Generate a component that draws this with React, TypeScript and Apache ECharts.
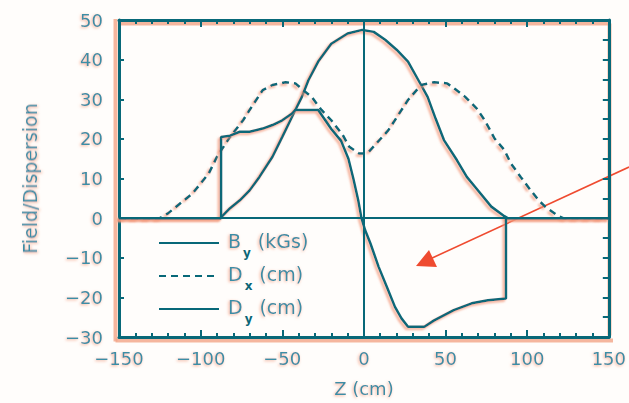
import React, { useEffect, useRef } from "react";
import * as echarts from "echarts";

// ---- data ----
const byZ = [-150, -88, -82, -76, -70, -64, -56, -50, -46, -42, -38, -34, -28, -20, -10, -1, 6, 13, 20, 27, 35, 39, 44, 49, 57, 63, 68, 78, 86, 88, 150];
const byV = [0, 0, 2.5, 4.5, 7, 10.4, 15.5, 20.5, 23.9, 27.3, 30.6, 34.8, 39.5, 44, 46.6, 47.5, 47, 45, 42.5, 39.5, 33.6, 30.6, 25, 19.7, 14.6, 10.4, 7.9, 2.9, 0.5, 0, 0];

const dxZ = [-150, -125, -120, -105, -95, -90, -82, -74, -70, -62, -56, -48, -42, -36, -32, -26, -20, -13, -9, -3, 2, 8, 15, 21, 27, 35, 43, 51, 56, 62, 69, 74, 80, 86, 90, 96, 102, 107, 111, 118, 122, 150];
const dxV = [0, 0, 1.2, 6.2, 11.3, 15.5, 20.5, 24.7, 27.3, 32.3, 33.6, 34.3, 34, 31.9, 30.6, 27.3, 24.7, 21, 18, 16.3, 16.3, 19, 22.2, 26, 29.8, 33.6, 34.3, 34, 32.5, 30.6, 27.7, 24.7, 20.1, 17.2, 13.8, 10.4, 7.1, 4.5, 2.9, 0.8, 0, 0];

const dyZ = [-150, -87.5, -87.5, -82, -76, -70, -62, -56, -50, -44, -42, -28, -20, -14, -9.5, -6.5, -3.5, -1.5, 0.7, 4, 9, 14, 19, 23, 27, 37, 43, 55, 66, 76, 87, 87, 150];
const dyV = [0, 0, 20.5, 20.8, 21.8, 21.8, 22.6, 23.5, 24.7, 26.4, 27.3, 27.3, 22.5, 19.5, 15, 10, 4.5, 0, -3, -6.4, -12.3, -17.3, -22.4, -25.3, -27.4, -27.4, -25.8, -23.2, -21.5, -20.7, -20.3, 0, 0];

const seriesMain = ["B", "D", "D"];
const seriesSub = ["y", "x", "y"];
const seriesUnit = ["(kGs)", "(cm)", "(cm)"];
const seriesNames = seriesMain.map((m, i) => `${m}${seriesSub[i]} ${seriesUnit[i]}`);

const xMin = -150, xMax = 150, xStep = 50;
const yMin = -30, yMax = 50, yStep = 10;
const xName = "Z (cm)";
const yName = "Field/Dispersion";

const TEAL = "#086878";
const TEXT = "#3a8ea6";
const ORANGE = "rgba(242,150,120,0.8)";
const PEACH = "#f2a487";
const FONT = "DejaVu Sans";

const pairs = (z: number[], v: number[]) => z.map((x, i) => [x, v[i]]);

const textHalo = {
  textShadowColor: "rgba(244,160,130,0.9)",
  textShadowBlur: 3,
  textShadowOffsetX: -1,
  textShadowOffsetY: 1,
};

const lineShadow = {
  shadowColor: ORANGE,
  shadowBlur: 2,
  shadowOffsetX: -2,
  shadowOffsetY: 2,
};

export default function App() {
  const ref = useRef<HTMLDivElement>(null);
  useEffect(() => {
    if (!ref.current) return;
    const chart = echarts.init(ref.current, undefined, { renderer: "svg" });
    const fmt = (v: number) => String(v).replace("-", "\u2212");
    const axisLine = () => ({ show: true, onZero: false, lineStyle: { color: TEAL, width: 3 } });
    const tick = (len: number) => ({ show: true, inside: true, length: len, lineStyle: { color: TEAL, width: 2 } });
    const halo = (x1: number, y1: number, x2: number, y2: number) => ({
      type: "line", silent: true, shape: { x1, y1, x2, y2 }, style: { stroke: PEACH, lineWidth: 4, opacity: 0.8 },
    });
    chart.setOption({
      animation: false,
      backgroundColor: "#fffdfb",
      grid: { left: 119, right: 17, top: 20, bottom: 66 },
      legend: {
        orient: "vertical",
        left: 153,
        top: 226,
        itemWidth: 60,
        itemHeight: 14,
        itemGap: 5,
        itemStyle: { opacity: 0 },
        data: seriesNames,
        formatter: (name: string) => {
          const i = seriesNames.indexOf(name);
          return `{f|${seriesMain[i]}}{s|${seriesSub[i]}}{m|${seriesUnit[i]}}`;
        },
        textStyle: {
          rich: {
            f: { fontSize: 19, fontFamily: FONT, color: TEXT, lineHeight: 24, verticalAlign: "top", padding: [0, 0, 0, 4], ...textHalo },
            s: { fontSize: 12, fontFamily: FONT, fontWeight: "bold", color: "#0b6677", lineHeight: 12, verticalAlign: "top", padding: [16, 7, 0, 2] },
            m: { fontSize: 19, fontFamily: FONT, color: TEXT, lineHeight: 24, verticalAlign: "top", ...textHalo },
          },
        },
      },
      xAxis: [
        {
          type: "value", min: xMin, max: xMax, interval: xStep, position: "bottom",
          name: xName, nameLocation: "middle", nameGap: 42,
          nameTextStyle: { fontSize: 18, fontFamily: FONT, color: TEXT, ...textHalo },
          axisLine: axisLine(),
          axisTick: tick(7),
          minorTick: { show: true, splitNumber: 5, length: 4, lineStyle: { color: TEAL, width: 2 } },
          axisLabel: { margin: 12, fontSize: 18, fontFamily: FONT, color: TEXT, formatter: fmt, ...textHalo },
          splitLine: { show: false },
        },
        {
          type: "value", min: xMin, max: xMax, interval: xStep, position: "top",
          axisLine: axisLine(),
          axisTick: tick(7),
          minorTick: { show: true, splitNumber: 5, length: 4, lineStyle: { color: TEAL, width: 2 } },
          axisLabel: { show: false },
          splitLine: { show: false },
        },
      ],
      yAxis: [
        {
          type: "value", min: yMin, max: yMax, interval: yStep, position: "left",
          name: yName, nameLocation: "middle", nameGap: 80, nameRotate: 90,
          nameTextStyle: { fontSize: 19, fontFamily: FONT, color: TEXT, ...textHalo },
          axisLine: axisLine(),
          axisTick: tick(5),
          axisLabel: { margin: 16, fontSize: 18, fontFamily: FONT, color: TEXT, formatter: fmt, ...textHalo },
          splitLine: { show: false },
        },
        {
          type: "value", min: yMin, max: yMax, interval: yStep, position: "right",
          axisLine: axisLine(),
          axisTick: tick(6),
          minorTick: { show: true, splitNumber: 2, length: 6, lineStyle: { color: TEAL, width: 2 } },
          axisLabel: { show: false },
          splitLine: { show: false },
        },
      ],
      series: [
        {
          name: seriesNames[0], type: "line", symbol: "none", data: pairs(byZ, byV),
          lineStyle: { color: TEAL, width: 2.5, ...lineShadow }, itemStyle: { color: TEAL },
        },
        {
          name: seriesNames[1], type: "line", symbol: "none", data: pairs(dxZ, dxV),
          lineStyle: { color: TEAL, width: 2.5, type: [7, 5], ...lineShadow }, itemStyle: { color: TEAL },
        },
        {
          name: seriesNames[2], type: "line", symbol: "none", data: pairs(dyZ, dyV),
          lineStyle: { color: TEAL, width: 2.5, ...lineShadow }, itemStyle: { color: TEAL },
          markLine: {
            silent: true, symbol: ["none", "none"], label: { show: false },
            lineStyle: { color: TEAL, width: 2, type: "solid" },
            data: [{ xAxis: 0 }, { yAxis: 0 }],
          },
        },
      ],
      graphic: [
        halo(115.5, 19, 115.5, 341.5),
        halo(115.5, 340.5, 613, 340.5),
        halo(120.5, 23.5, 609.5, 23.5),
        halo(609.5, 23.5, 609.5, 335.5),
        { type: "line", shape: { x1: 629, y1: 167, x2: 430, y2: 259 }, style: { stroke: "#ef4b30", lineWidth: 1.6 } },
        { type: "polygon", shape: { points: [[416, 266], [429, 250], [437, 267]] }, style: { fill: "#ef4b30" } },
      ],
    });
    return () => chart.dispose();
  }, []);
  return <div ref={ref} style={{ position: "fixed", left: 0, top: 0, width: 629, height: 403 }} />;
}
